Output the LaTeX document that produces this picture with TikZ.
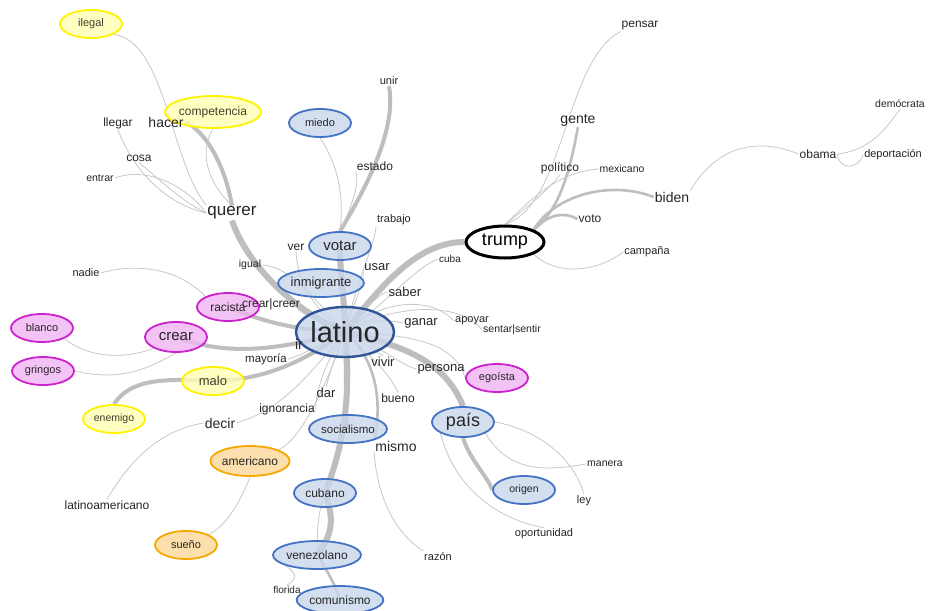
\documentclass[tikz,border=0pt]{standalone}
\usepackage{fontspec}
\setmainfont{Liberation Sans}
\usetikzlibrary{shapes.geometric,backgrounds}
\newcommand\fsz[1]{\fontsize{#1}{#1}\selectfont}
\definecolor{txt}{HTML}{262626}
\definecolor{bfill}{HTML}{C9D6EC}
\definecolor{bbord}{HTML}{4472C4}
\definecolor{latb}{HTML}{2F5597}
\definecolor{yfill}{HTML}{FFFFB3}
\definecolor{ybord}{HTML}{FFF200}
\definecolor{mfill}{HTML}{F0B4F4}
\definecolor{mbord}{HTML}{CC22CC}
\definecolor{ofill}{HTML}{FCD899}
\definecolor{obord}{HTML}{F6A800}
\definecolor{edg}{HTML}{C8C8C8}
\definecolor{edgk}{HTML}{BEBEBE}
\tikzset{
  word/.style={font=\fsz{12}, text=txt, inner sep=1pt},
  bub/.style={ellipse, line width=1.8pt, inner sep=0pt, minimum width=62, minimum height=28,
    fill opacity=0.8, text opacity=1, text=txt, font=\fsz{11}},
  bluebub/.style={bub, draw=bbord, fill=bfill},
  yelbub/.style={bub, draw=ybord, fill=yfill, text=black!70!olive},
  magbub/.style={bub, draw=mbord, fill=mfill},
  orabub/.style={bub, draw=obord, fill=ofill},
  thin/.style={draw=edg, line width=0.8pt},
  mid/.style={draw=edgk, line width=2.6pt},
  thick/.style={draw=edgk, line width=4pt},
  heavy/.style={draw=edgk, line width=6pt},
}
\begin{document}
\begin{tikzpicture}[x=1pt,y=-1pt]
\useasboundingbox (0,0) rectangle (930,611);
% ---- bubbles ----
\node[bluebub, minimum width=90, minimum height=50, draw=latb, line width=2.4pt, font=\fsz{29}] (latino) at (345,332) {latino};
\node[bub, draw=black, fill=white, line width=3pt, minimum width=78, minimum height=32, font=\fsz{18}, text=black] (trump) at (505,242) {trump};
\node[bluebub, font=\fsz{15}] (votar) at (340,246) {votar};
\node[bluebub, minimum width=84, font=\fsz{13}] (inmigrante) at (321,283) {inmigrante};
\node[bluebub] (miedo) at (320,123) {miedo};
\node[magbub, font=\fsz{12}] (racista) at (228,307) {racista};
\node[magbub, minimum height=30, font=\fsz{15}] (crear) at (176,337) {crear};
\node[magbub] (blanco) at (42,328) {blanco};
\node[magbub] (gringos) at (43,371) {gringos};
\node[magbub] (egoista) at (497,378) {egoísta};
\node[yelbub, font=\fsz{13}] (malo) at (213,381) {malo};
\node[yelbub, font=\fsz{10.5}] (enemigo) at (114,419) {enemigo};
\node[yelbub] (ilegal) at (91,24) {ilegal};
\node[yelbub, minimum width=88, minimum height=32, font=\fsz{12}] (competencia) at (213,112) {competencia};
\node[orabub, minimum width=78, minimum height=30, font=\fsz{12}] (americano) at (250,461) {americano};
\node[orabub] (sueno) at (186,545) {sueño};
\node[bluebub, minimum width=78, font=\fsz{11.5}] (socialismo) at (348,429) {socialismo};
\node[bluebub, font=\fsz{12}] (cubano) at (325,493) {cubano};
\node[bluebub, minimum width=88, font=\fsz{12}] (venezolano) at (317,555) {venezolano};
\node[bluebub, minimum width=82, font=\fsz{12}] (comunismo) at (340,600) {comunismo};
\node[bluebub, minimum height=30, font=\fsz{18}] (pais) at (463,422) {país};
\node[bluebub, font=\fsz{10.5}] (origen) at (524,490) {origen};
% ---- plain words ----
\node[word, font=\fsz{11}] (unir) at (389,81) {unir};
\node[word] (estado) at (375,166) {estado};
\node[word, font=\fsz{11}] (trabajo) at (394,220) {trabajo};
\node[word] (ver) at (296,247) {ver};
\node[word, font=\fsz{13}] (usar) at (377,267) {usar};
\node[word, font=\fsz{10.5}] (igual) at (250,265) {igual};
\node[word, font=\fsz{12}] (crearcreer) at (271,304) {crear|creer};
\node[word, font=\fsz{14}] (ir) at (299,344) {ir};
\node[word, font=\fsz{11.5}] (mayoria) at (266,359) {mayoría};
\node[word, font=\fsz{13}] (dar) at (326,393) {dar};
\node[word] (ignorancia) at (287,409) {ignorancia};
\node[word, font=\fsz{14}] (decir) at (220,423) {decir};
\node[word, font=\fsz{13}] (vivir) at (383,362) {vivir};
\node[word] (bueno) at (398,398) {bueno};
\node[word, font=\fsz{14}] (mismo) at (396,446) {mismo};
\node[word, font=\fsz{13}] (persona) at (441,369) {persona};
\node[word, font=\fsz{13}] (saber) at (405,292) {saber};
\node[word, font=\fsz{13}] (ganar) at (421,323) {ganar};
\node[word, font=\fsz{11}] (apoyar) at (472,321) {apoyar};
\node[word, font=\fsz{10.5}] (sentar) at (512,330) {sentar|sentir};
\node[word, font=\fsz{10}] (cuba) at (450,259) {cuba};
\node[word, font=\fsz{17}] (querer) at (232,213) {querer};
\node[word] (llegar) at (118,123) {llegar};
\node[word, font=\fsz{14}] (hacer) at (166,122) {hacer};
\node[word] (cosa) at (139,158) {cosa};
\node[word, font=\fsz{10.5}] (entrar) at (100,178) {entrar};
\node[word, font=\fsz{11}] (nadie) at (86,273) {nadie};
\node[word] (latinoam) at (107,505) {latinoamericano};
\node[word, font=\fsz{11}] (razon) at (438,556) {razón};
\node[word, font=\fsz{11}] (oportunidad) at (544,534) {oportunidad};
\node[word, font=\fsz{11}] (ley) at (584,501) {ley};
\node[word, font=\fsz{10.5}] (manera) at (605,464) {manera};
\node[word, font=\fsz{10}] (florida) at (287,590) {florida};
\node[word] (pensar) at (640,26) {pensar};
\node[word, font=\fsz{14}] (gente) at (578,120) {gente};
\node[word] (politico) at (560,168) {político};
\node[word, font=\fsz{10.5}] (mexicano) at (622,169) {mexicano};
\node[word, font=\fsz{14}] (biden) at (672,197) {biden};
\node[word] (voto) at (590,219) {voto};
\node[word, font=\fsz{11}] (campana) at (647,252) {campaña};
\node[word] (obama) at (818,154) {obama};
\node[word, font=\fsz{11}] (deportacion) at (893,155) {deportación};
\node[word, font=\fsz{10.5}] (democrata) at (900,104) {demócrata};
% ---- connectors ----
\begin{scope}[on background layer]
\fill[white] (0,0) rectangle (930,611);
% trump cluster
\draw[thin] (trump.north) .. controls (565,205) and (565,60) .. (pensar.south west);
\draw[mid] (trump.north east) .. controls (560,210) and (570,170) .. (gente.south);
\draw[thin] (trump.north) .. controls (530,205) and (548,190) .. (politico.south);
\draw[thin] (trump.north) .. controls (535,195) and (560,172) .. (mexicano.west);
\draw[mid] (trump.north east) .. controls (555,195) and (610,180) .. (biden.west);
\draw[mid] (trump.north east) .. controls (550,213) and (565,212) .. (voto.west);
\draw[thin] (trump.south east) .. controls (560,278) and (600,270) .. (campana.west);
\draw[thin] (biden.north east) .. controls (720,140) and (765,140) .. (obama.west);
\draw[thin] (obama.east) .. controls (870,150) and (885,130) .. (democrata.south);
\draw[thin] (obama.east) .. controls (838,170) and (858,170) .. (deportacion.west);
% latino to trump and east
\draw[heavy] (latino.center) .. controls (385,280) and (420,242) .. (trump.west);
\draw[thin] (latino.center) .. controls (390,300) and (415,268) .. (cuba.west);
\draw[thin] (latino.center) .. controls (370,300) and (385,292) .. (saber.west);
\draw[thin] (latino.center) .. controls (380,315) and (395,322) .. (ganar.west);
\draw[thin] (latino.center) .. controls (380,300) and (430,295) .. (apoyar.west);
\draw[thin] (latino.center) .. controls (390,305) and (460,300) .. (sentar.west);
\draw[thin] (latino.center) .. controls (380,345) and (400,365) .. (persona.west);
\draw[thin] (latino.center) .. controls (420,335) and (455,345) .. (egoista.west);
\draw[thin] (latino.center) .. controls (365,345) and (375,350) .. (vivir.north);
\draw[thin] (latino.center) .. controls (375,360) and (390,375) .. (bueno.north);
\draw[mid] (latino.center) .. controls (378,360) and (382,405) .. (mismo.north west);
\draw[thin] (mismo.south west) .. controls (378,510) and (405,540) .. (razon.north west);
\draw[heavy] (latino.center) .. controls (400,345) and (445,360) .. (pais.north);
\draw[thick] (pais.south) .. controls (470,460) and (490,480) .. (origen.west);
\draw[thin] (pais.south west) .. controls (455,490) and (500,520) .. (oportunidad.north);
\draw[thin] (pais.east) .. controls (540,430) and (575,460) .. (ley.north);
\draw[thin] (pais.south east) .. controls (510,475) and (550,470) .. (manera.west);
% north
\draw[heavy] (latino.center) .. controls (345,300) and (340,280) .. (votar.center);
\draw[thick] (votar.north) .. controls (365,190) and (397,130) .. (unir.south);
\draw[thin] (votar.north) .. controls (350,210) and (360,185) .. (estado.south west);
\draw[thin] (votar.north) .. controls (345,190) and (335,160) .. (miedo.south);
\draw[thin] (latino.center) .. controls (360,270) and (375,245) .. (trabajo.south west);
\draw[thin] (latino.center) .. controls (355,300) and (365,280) .. (usar.south west);
\draw[thin] (latino.center) .. controls (315,310) and (298,285) .. (ver.south);
\draw[thin] (latino.center) .. controls (315,300) and (290,266) .. (igual.east);
% north-west
\draw[heavy] (latino.center) .. controls (290,310) and (245,260) .. (querer.south);
\draw[thick] (querer.north) .. controls (225,165) and (205,130) .. (hacer.east);
\draw[thin] (querer.north) .. controls (205,180) and (200,150) .. (competencia.south);
\draw[thin] (querer.north west) .. controls (170,160) and (165,40) .. (ilegal.south east);
\draw[thin] (querer.west) .. controls (170,205) and (135,175) .. (llegar.south);
\draw[thin] (querer.west) .. controls (180,200) and (160,180) .. (cosa.south);
\draw[thin] (querer.west) .. controls (190,190) and (150,165) .. (entrar.east);
% west
\draw[thick] (latino.center) .. controls (290,330) and (260,320) .. (racista.center);
\draw[thin] (latino.center) .. controls (300,315) and (290,306) .. (crearcreer.east);
\draw[thin] (racista.north west) .. controls (180,270) and (140,262) .. (nadie.east);
\draw[thick] (latino.center) .. controls (270,352) and (225,355) .. (crear.center);
\draw[thin] (crear.south west) .. controls (130,358) and (90,360) .. (blanco.south east);
\draw[thin] (crear.south) .. controls (150,368) and (120,382) .. (gringos.east);
\draw[thin] (latino.center) .. controls (310,350) and (295,358) .. (mayoria.east);
\draw[thin] (latino.center) .. controls (320,340) and (305,345) .. (ir.east);
\draw[thick] (latino.center) .. controls (290,372) and (250,380) .. (malo.center);
\draw[thick] (malo.center) .. controls (160,378) and (130,380) .. (enemigo.north);
% south-west
\draw[thin] (latino.center) .. controls (330,370) and (328,380) .. (dar.north);
\draw[thin] (latino.center) .. controls (320,370) and (315,400) .. (ignorancia.east);
\draw[thin] (latino.center) .. controls (305,380) and (280,410) .. (decir.east);
\draw[thin] (decir.west) .. controls (160,430) and (130,460) .. (latinoam.north);
\draw[thin] (latino.center) .. controls (325,390) and (300,440) .. (americano.north east);
\draw[thin] (americano.south) .. controls (245,490) and (230,525) .. (sueno.north east);
% south
\draw[mid] (latino.center) .. controls (345,380) and (345,400) .. (socialismo.center);
\draw[heavy] (latino.center) .. controls (352,400) and (342,450) .. (cubano.center);
\draw[heavy] (cubano.center) .. controls (335,520) and (332,535) .. (venezolano.center);
\draw[mid] (venezolano.center) .. controls (330,575) and (335,585) .. (comunismo.center);
\draw[thin] (cubano.center) .. controls (315,520) and (318,545) .. (venezolano.center);
\draw[thin] (venezolano.south west) .. controls (300,575) and (295,580) .. (florida.north);
\end{scope}
\end{tikzpicture}
\end{document}
